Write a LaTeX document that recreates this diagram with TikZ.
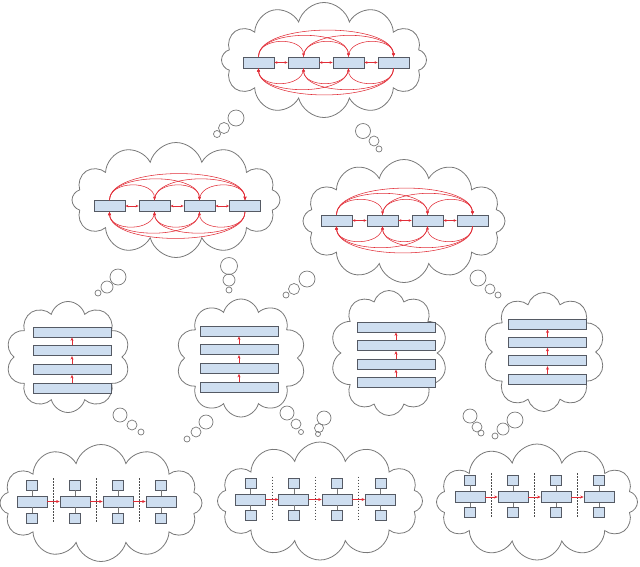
\documentclass[tikz,border=0pt]{standalone}
\usetikzlibrary{shapes.symbols,arrows.meta}
\definecolor{boxfill}{RGB}{206,222,240}
\definecolor{boxline}{RGB}{85,90,100}
\definecolor{cloudgray}{RGB}{120,120,120}
\definecolor{arcred}{RGB}{225,45,55}
\tikzset{
  cloudbox/.style={cloud, cloud ignores aspect, draw=cloudgray, line width=0.8pt, inner sep=0pt},
  hbox/.style={draw=boxline, fill=boxfill, line width=0.8pt, minimum width=31pt, minimum height=11pt, inner sep=0pt},
  wbox/.style={draw=boxline, fill=boxfill, line width=0.8pt, minimum width=78pt, minimum height=10pt, inner sep=0pt},
  bbox/.style={draw=boxline, fill=boxfill, line width=0.7pt, minimum width=30pt, minimum height=11pt, inner sep=0pt},
  sbox/.style={draw=boxline, fill=boxfill, line width=0.7pt, minimum width=11pt, minimum height=10pt, inner sep=0pt},
  redarc/.style={draw=arcred, line width=0.55pt},
  redtip/.style={-{Stealth[length=3.5pt,width=3pt]}},
  linkline/.style={draw=cloudgray, line width=0.6pt},
  dashline/.style={draw=black!70, line width=0.6pt, dash pattern=on 1.5pt off 1.5pt},
  bubble/.style={draw=cloudgray, line width=0.7pt}
}
\newcommand\mkarcs[1]{%
  \foreach \i/\j/\h in {1/2/20,2/3/20,3/4/20,1/3/28,2/4/28,1/4/35}{%
    \draw[redarc,redtip] (#1\i.north) .. controls +(0,-\h) and +(0,-\h) .. (#1\j.north);
    \draw[redarc,redtip] (#1\j.south) .. controls +(0,\h) and +(0,\h) .. (#1\i.south);
  }%
  \foreach \i/\j in {1/2,2/3,3/4}{%
    \draw[redarc,{Stealth[length=3pt,width=2.6pt]}-{Stealth[length=3pt,width=2.6pt]}] (#1\i.east) -- (#1\j.west);
  }%
}
\newcommand\mkstack[4]{% prefix, x, y0, dy
  \foreach \k in {1,...,4}{%
    \node[wbox] (#1\k) at (#2,{#3+#4*(\k-1)}) {};
  }%
  \foreach \i/\j in {2/1,3/2,4/3}{%
    \draw[redarc,redtip] (#1\i.north) -- (#1\j.south);
  }%
}
\newcommand\mkrow[6]{% prefix, x0, dx, ybig, yup, ydown
  \foreach \k in {1,...,4}{%
    \node[bbox] (#1\k) at ({#2+#3*(\k-1)},#4) {};
    \node[sbox] (#1u\k) at ({#2+#3*(\k-1)},#5) {};
    \node[sbox] (#1d\k) at ({#2+#3*(\k-1)},#6) {};
    \draw[linkline] (#1u\k) -- (#1\k);
    \draw[linkline] (#1d\k) -- (#1\k);
  }%
  \foreach \k in {1,2,3}{%
    \draw[dashline] ({#2+#3*(\k-0.5)},{#5-7}) -- ({#2+#3*(\k-0.5)},{#6+5});
  }%
  \foreach \i/\j in {1/2,2/3,3/4}{%
    \draw[redarc,redtip] (#1\i.east) -- (#1\j.west);
  }%
}
\begin{document}
\begin{tikzpicture}[x=1pt,y=-1pt]
\useasboundingbox (0,0) rectangle (640,566);
% clouds
\node[cloudbox, cloud puffs=12, minimum width=205pt, minimum height=115pt] (c0) at (324,60) {};
\node[cloudbox, cloud puffs=12, minimum width=208pt, minimum height=115pt] (c1) at (176,200) {};
\node[cloudbox, cloud puffs=12, minimum width=202pt, minimum height=123pt] (c2) at (404,221) {};
\node[cloudbox, cloud puffs=10, minimum width=124pt, minimum height=111pt] (c3) at (68,357) {};
\node[cloudbox, cloud puffs=10, minimum width=130pt, minimum height=118pt] (c4) at (241,358) {};
\node[cloudbox, cloud puffs=10, minimum width=117pt, minimum height=125pt] (c5) at (389,353) {};
\node[cloudbox, cloud puffs=10, minimum width=122pt, minimum height=119pt] (c6) at (544,352) {};
\node[cloudbox, cloud puffs=12, minimum width=202pt, minimum height=117pt] (c7) at (101,503) {};
\node[cloudbox, cloud puffs=12, minimum width=205pt, minimum height=118pt] (c8) at (320,501) {};
\node[cloudbox, cloud puffs=12, minimum width=201pt, minimum height=116pt] (c9) at (537,502) {};
% bubbles
\foreach \x/\y/\r in {236/118/8, 224/128/5.5, 217/134/3.5,
  363/131/7.5, 374/141/5, 379/149/3,
  118/277/8, 107/287/6, 98/293/3,
  229/266/8.5, 229/280/6, 229/290/3,
  307/279/8, 294/289/5.5, 286/295/3,
  478/278/8, 490/289/5, 498/295/3,
  120/415/7, 132/425/5, 141/432/3,
  206/422/7, 196/432/5, 187/439/3,
  287/413/7, 296/424/5, 301/432/2.5,
  324/418/7, 319/428/4.5, 318/434/2.5,
  470/416/7, 477/427/5, 481/433/3,
  515/420/8, 503/429/6, 495/436/3}{%
  \draw[bubble] (\x,\y) circle[radius=\r];
}
% top cloud
\foreach \k/\x in {1/258.5,2/303.5,3/348.5,4/393.5} \node[hbox] (A\k) at (\x,62.5) {};
\mkarcs{A}
% middle clouds
\foreach \k/\x in {1/109.5,2/154.5,3/199.5,4/245} \node[hbox] (B\k) at (\x,206) {};
\mkarcs{B}
\foreach \k/\x in {1/336.5,2/382.5,3/427.5,4/472.5} \node[hbox] (C\k) at (\x,220.5) {};
\mkarcs{C}
% stacks
\mkstack{D}{72}{332}{18.7}
\mkstack{E}{239}{331}{18.7}
\mkstack{F}{396}{327}{18.6}
\mkstack{G}{547.5}{324}{18.4}
% rows
\mkrow{P}{32}{43}{501.5}{485}{518}
\mkrow{Q}{250.5}{43.3}{499.5}{483.5}{515.5}
\mkrow{R}{470}{43}{497}{480}{512}
\end{tikzpicture}
\end{document}
